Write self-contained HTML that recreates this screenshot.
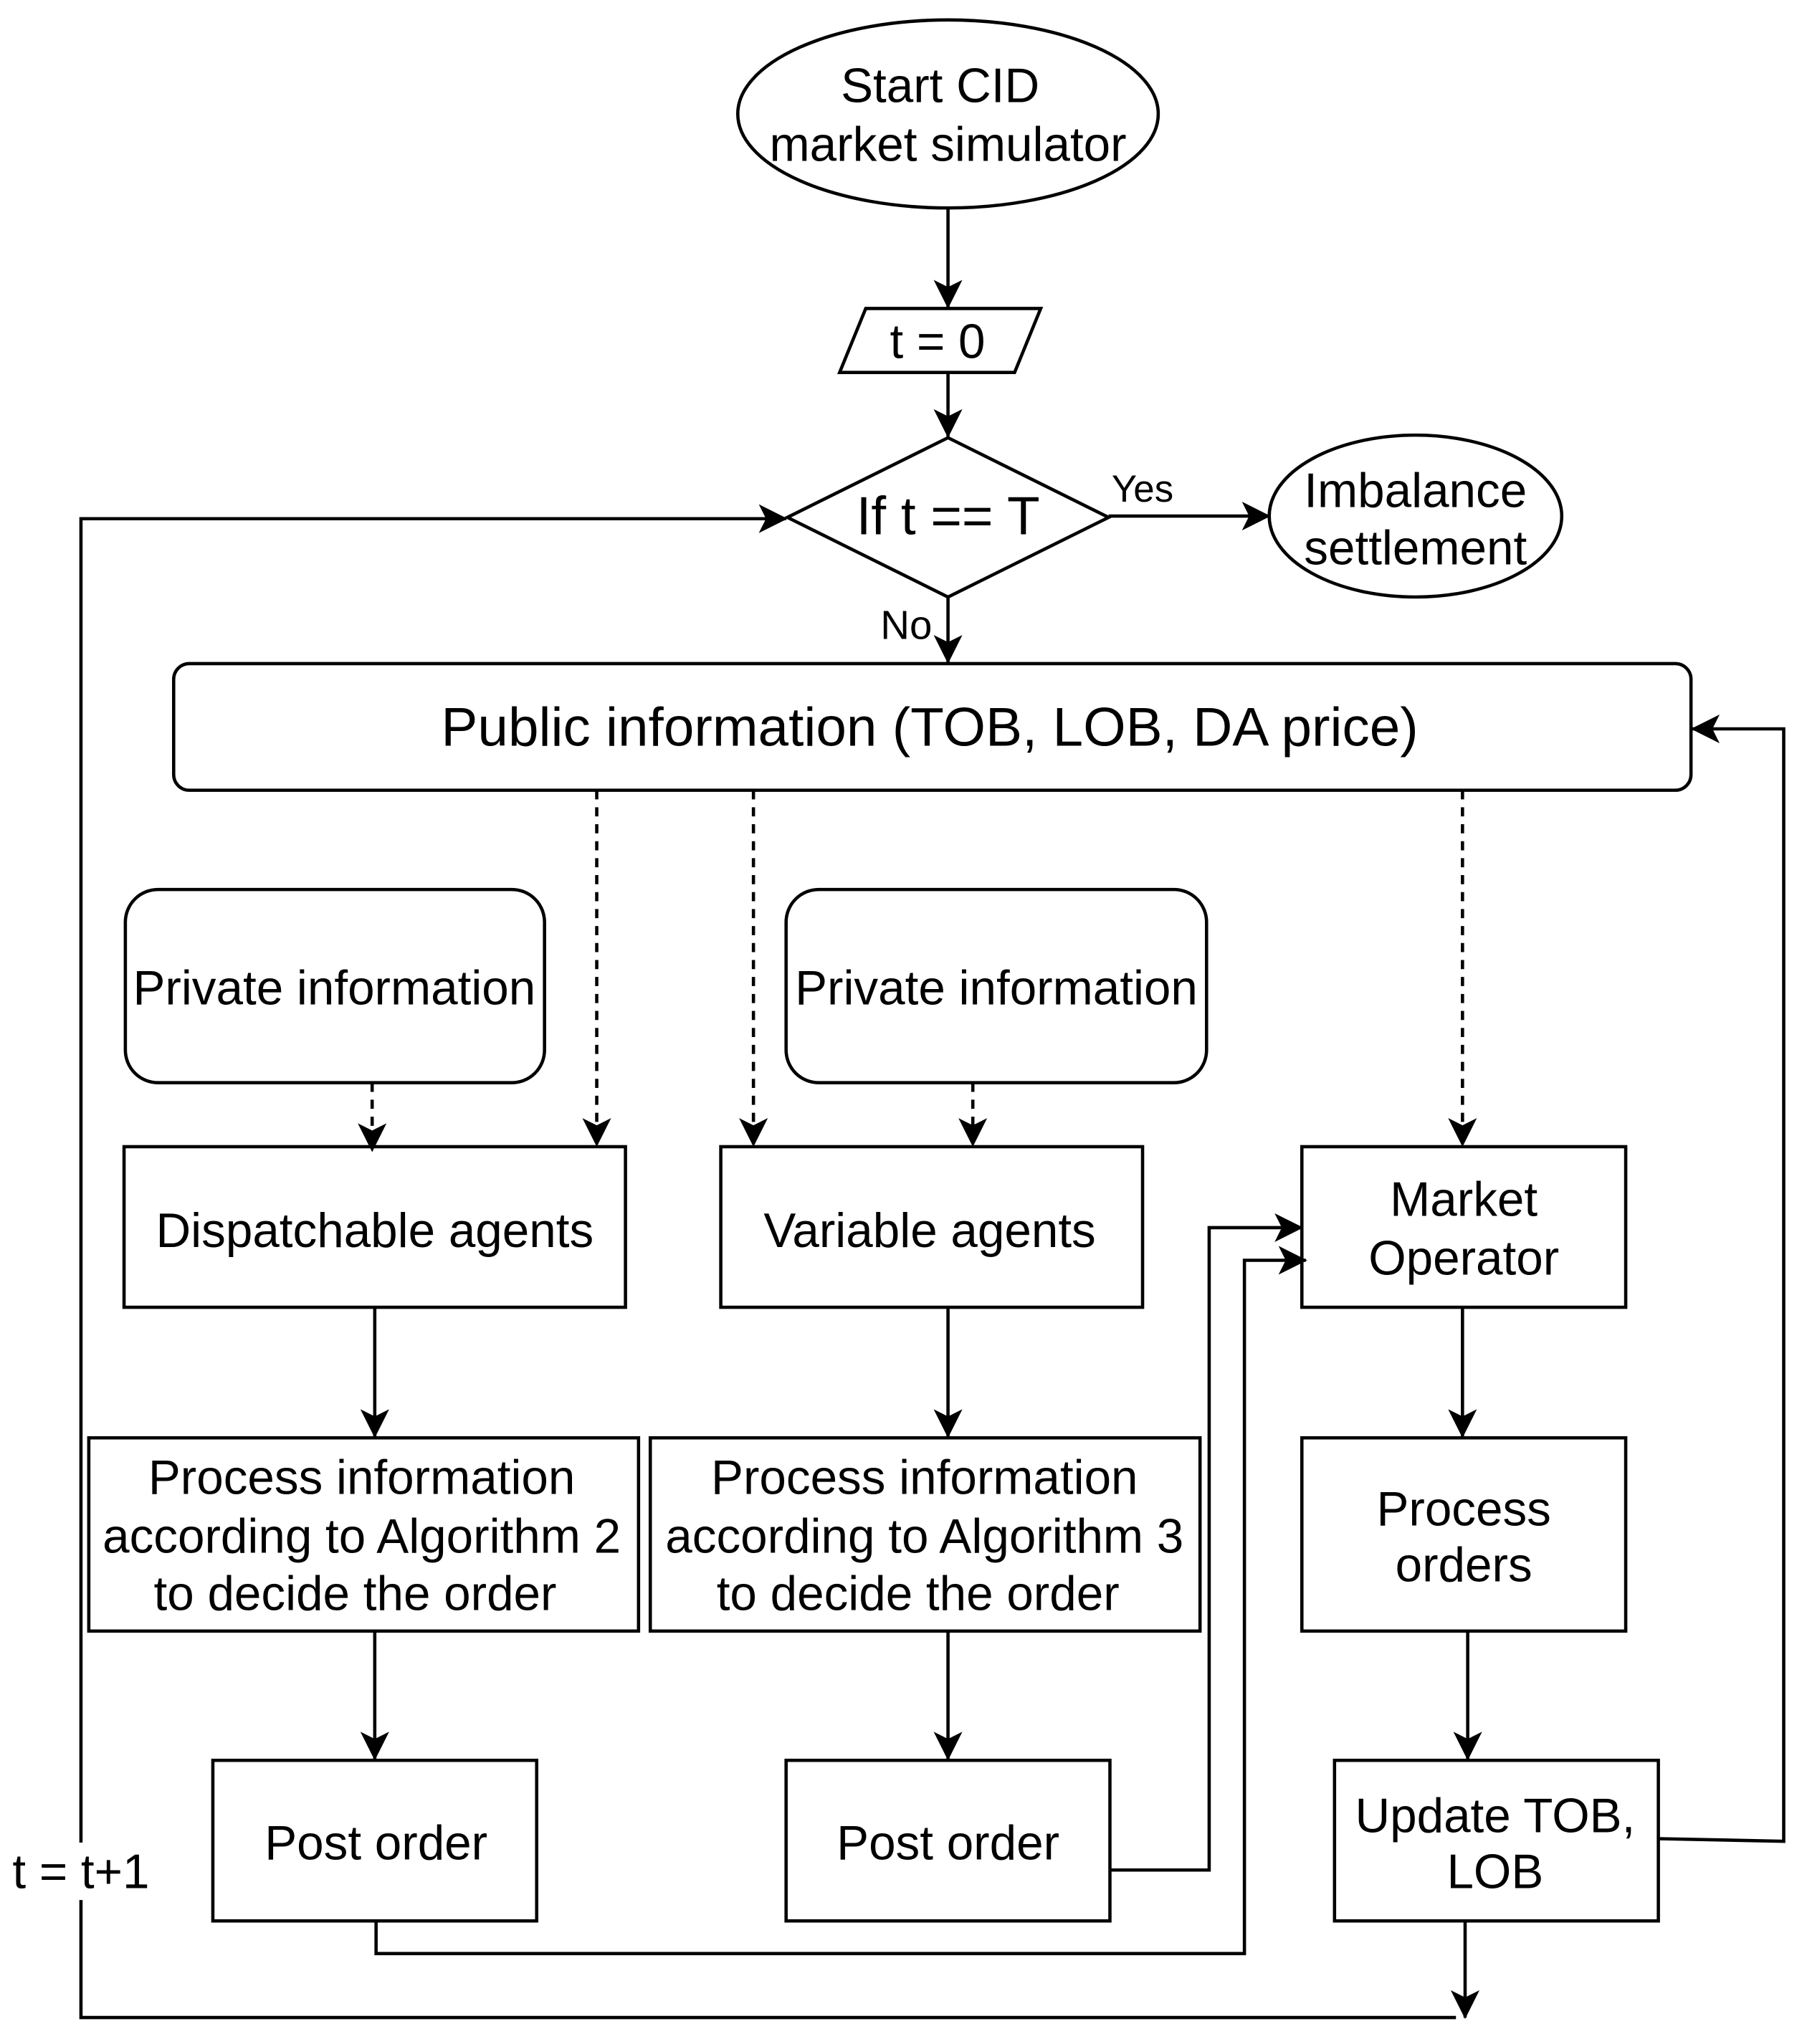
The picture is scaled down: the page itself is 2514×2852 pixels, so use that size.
<!DOCTYPE html>
<html><head><meta charset="utf-8"><style>
html,body{margin:0;padding:0;background:#fff;}
svg{display:block;}
text{font-family:"Liberation Sans",Arial,sans-serif;fill:#000;text-anchor:middle;}
</style></head><body>
<svg width="2514" height="2852" viewBox="0 0 1380 1565" xmlns="http://www.w3.org/2000/svg">
<defs>
<marker id="ar" viewBox="0 0 20 20" refX="19" refY="10" markerWidth="22" markerHeight="22" markerUnits="userSpaceOnUse" orient="auto">
<path d="M0,0 L20,10 L0,20 L5,10 Z" fill="#000"/>
</marker>
</defs>
<g fill="none" stroke="#000" stroke-width="2.5">
<ellipse cx="726" cy="87" rx="161" ry="72"/>
<polygon points="663,236 797,236 777,285 643,285"/>
<polygon points="726,335 849,396 726,457 603,396"/>
<ellipse cx="1084" cy="395" rx="112" ry="62"/>
<rect x="133" y="508" width="1162" height="97" rx="12"/>
<rect x="96" y="681" width="321" height="148" rx="25"/>
<rect x="602" y="681" width="322" height="148" rx="25"/>
<rect x="95" y="878" width="384" height="123"/>
<rect x="552" y="878" width="323" height="123"/>
<rect x="997" y="878" width="248" height="123"/>
<rect x="68" y="1101" width="421" height="148"/>
<rect x="498" y="1101" width="421" height="148"/>
<rect x="997" y="1101" width="248" height="148"/>
<rect x="163" y="1348" width="248" height="123"/>
<rect x="602" y="1348" width="248" height="123"/>
<rect x="1022" y="1348" width="248" height="123"/>
</g>
<g fill="none" stroke="#000" stroke-width="2.5" marker-end="url(#ar)">
<line x1="726" y1="160" x2="726" y2="235"/>
<line x1="726" y1="285" x2="726" y2="334"/>
<line x1="849" y1="395" x2="972" y2="395"/>
<line x1="726" y1="457" x2="726" y2="507"/>
<line x1="287" y1="1001" x2="287" y2="1100"/>
<line x1="726" y1="1001" x2="726" y2="1100"/>
<line x1="1120" y1="1001" x2="1120" y2="1100"/>
<line x1="287" y1="1249" x2="287" y2="1347"/>
<line x1="726" y1="1249" x2="726" y2="1347"/>
<line x1="1124" y1="1249" x2="1124" y2="1347"/>
<polyline points="850,1432 926,1432 926,940 997,940"/>
<polyline points="288,1471 288,1496 953,1496 953,965 1000,965"/>
<polyline points="1270,1408 1366,1410 1366,558 1296,558"/>
<line x1="1122" y1="1471" x2="1122" y2="1545"/>
<polyline points="1115,1545 62,1545 62,397 602,397"/>
</g>
<g fill="none" stroke="#000" stroke-width="2.5" stroke-dasharray="7,6" marker-end="url(#ar)">
<line x1="457" y1="605" x2="457" y2="877"/>
<line x1="577" y1="605" x2="577" y2="877"/>
<line x1="1120" y1="605" x2="1120" y2="877"/>
<line x1="285" y1="829" x2="285" y2="881"/>
<line x1="745" y1="829" x2="745" y2="877"/>
</g>
<rect x="4" y="1411" width="116" height="44" fill="#fff"/>
<g font-size="37">
<text x="720" y="78">Start CID</text>
<text x="726" y="123">market simulator</text>
<text x="718" y="274">t = 0</text>
<text x="726" y="409" font-size="41">If t == T</text>
<text x="875" y="384" font-size="29">Yes</text>
<text x="1084" y="388">Imbalance</text>
<text x="1084" y="432">settlement</text>
<text x="694" y="489" font-size="31">No</text>
<text x="712" y="571" font-size="42">Public information (TOB, LOB, DA price)</text>
<text x="256" y="769">Private information</text>
<text x="763" y="769">Private information</text>
<text x="287" y="955">Dispatchable agents</text>
<text x="712" y="955">Variable agents</text>
<text x="1121" y="931">Market</text>
<text x="1121" y="976">Operator</text>
<text x="277" y="1144">Process information</text>
<text x="277" y="1189">according to Algorithm 2</text>
<text x="272" y="1233">to decide the order</text>
<text x="708" y="1144">Process information</text>
<text x="708" y="1189">according to Algorithm 3</text>
<text x="703" y="1233">to decide the order</text>
<text x="1121" y="1168">Process</text>
<text x="1121" y="1211">orders</text>
<text x="288" y="1424">Post order</text>
<text x="726" y="1424">Post order</text>
<text x="1145" y="1403">Update TOB,</text>
<text x="1145" y="1446">LOB</text>
<text x="62" y="1446">t = t+1</text>
</g>
</svg>
</body></html>
